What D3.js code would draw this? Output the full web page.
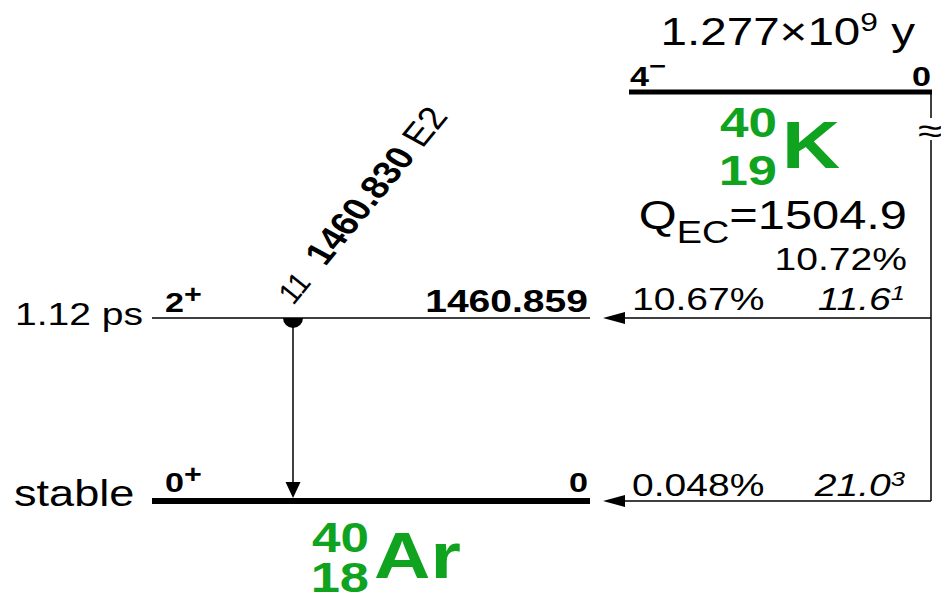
<!DOCTYPE html>
<html>
<head>
<meta charset="utf-8">
<script src="https://cdn.jsdelivr.net/npm/d3@7"></script>
<style>
  html, body { margin: 0; padding: 0; background: #fff; }
  svg { display: block; }
  text { font-family: "Liberation Sans", Arial, sans-serif; fill: #000; }
</style>
</head>
<body>
<svg id="scheme" width="941" height="593"></svg>
<script>
// ---- 40K electron-capture decay to 40Ar ----
// Daughter (40Ar) levels
const levelEnergies = [0, 1460.859];
const levelLabels   = ["0", "1460.859"];
const levelSpins    = ["0", "2"];
const levelParities = ["+", "+"];
const levelHalfLives = ["stable", "1.12 ps"];

// EC feeding of each daughter level
const ecBranches   = ["0.048%", "10.67%"];
const logFtValues  = ["21.0", "11.6"];
const logFtUncerts = ["3", "1"];

// Gamma transitions
const gammaFrom  = [1460.859];
const gammaTo    = [0];
const gammaEnergies = ["1460.830"];
const gammaIntensities = ["11"];
const gammaMults = ["E2"];

// Parent (40K)
const parentSpin = ["4", "\u2212"];
const parentLevelLabel = "0";
const parentHalfLife = ["1.277\u00d710", "9", " y"];
const qValue = 1504.9;
const parentEcTotal = "10.72%";

const GREEN = "#0fa31f";
const SX = 1.22;   // horizontal text stretch

const svg = d3.select("#scheme");

// Energy scale, broken between the daughter levels and the parent (Q value)
const y = d3.scaleLinear()
  .domain([0, levelEnergies[1], qValue])
  .range([501, 318, 92]);

const daughterX = d3.scaleLinear().domain([0, 1]).range([152, 590]);
const parentX = d3.scaleLinear().domain([0, 1]).range([629, 932]);
const feedX = 931;      // x of the vertical EC feeding line
const arrowTipX = 603;

function label(x, yy, anchor) {
  return svg.append("text")
    .attr("transform", `translate(${x},${yy}) scale(${SX},1)`)
    .attr("text-anchor", anchor || "start");
}

// ---- daughter levels ----
levelEnergies.forEach((e, i) => {
  const yy = y(e);
  const ground = e === 0;
  svg.append("line")
    .attr("x1", daughterX(0)).attr("x2", daughterX(1))
    .attr("y1", yy).attr("y2", yy)
    .attr("stroke", "#000")
    .attr("stroke-width", ground ? 6 : 1.6);

  // spin/parity
  const sp = label(165, yy - (ground ? 9 : 6), "start")
    .style("font-weight", "bold").style("font-size", "28px");
  sp.append("tspan").text(levelSpins[i]);
  sp.append("tspan").attr("dy", -9).style("font-size", "25px").text(levelParities[i]);

  // level energy
  label(588, yy - (ground ? 9 : 6), "end")
    .style("font-weight", "bold")
    .style("font-size", ground ? "28px" : "32px")
    .text(levelLabels[i]);

  // half-life
  label(ground ? 14 : 15, yy + (ground ? 5 : 7), "start")
    .style("font-size", ground ? "37px" : "32px")
    .text(levelHalfLives[i]);

  // EC feeding arrow
  svg.append("line")
    .attr("x1", feedX).attr("x2", arrowTipX + 15)
    .attr("y1", yy).attr("y2", yy)
    .attr("stroke", "#000").attr("stroke-width", 1.5);
  svg.append("path")
    .attr("d", `M${arrowTipX},${yy} L${arrowTipX + 22},${yy - 6} L${arrowTipX + 22},${yy + 6} Z`)
    .attr("fill", "#000");

  label(632, yy - (ground ? 5 : 8), "start")
    .style("font-size", "32px")
    .text(ecBranches[i]);
  const ft = label(905, yy - (ground ? 5 : 8), "end")
    .style("font-size", "32px").style("font-style", "italic");
  ft.append("tspan").text(logFtValues[i]);
  ft.append("tspan").attr("dy", -10).style("font-size", "21px").text(logFtUncerts[i]);
});

// ---- gamma transitions ----
gammaEnergies.forEach((g, i) => {
  const gx = 293;
  const y0 = y(gammaFrom[i]);
  const y1 = y(gammaTo[i]) - 3;
  // filled half-circle marking the coincidence origin
  const p = d3.path();
  p.moveTo(gx + 10, y0);
  p.arc(gx, y0, 10, 0, Math.PI);
  p.closePath();
  svg.append("path").attr("d", p.toString()).attr("fill", "#000");

  svg.append("line")
    .attr("x1", gx).attr("x2", gx)
    .attr("y1", y0).attr("y2", y1 - 12)
    .attr("stroke", "#000").attr("stroke-width", 1.5);
  svg.append("path")
    .attr("d", `M${gx},${y1} L${gx - 7.5},${y1 - 16} L${gx + 7.5},${y1 - 16} Z`)
    .attr("fill", "#000");

  const t = svg.append("text")
    .attr("transform", `translate(${gx + 1},${y0 - 13}) scale(${SX},1) rotate(-56)`)
    .style("font-size", "32px");
  t.append("tspan").style("font-style", "italic").style("font-size", "27px").text(gammaIntensities[i]);
  t.append("tspan").text("\u00a0\u00a0");
  t.append("tspan").style("font-weight", "bold").text(gammaEnergies[i]);
  t.append("tspan").text("\u00a0" + gammaMults[i]);
});

// ---- parent level ----
const py = y(qValue);
svg.append("line")
  .attr("x1", parentX(0)).attr("x2", parentX(1))
  .attr("y1", py).attr("y2", py)
  .attr("stroke", "#000").attr("stroke-width", 5);

const ps = label(630, py - 6, "start").style("font-weight", "bold").style("font-size", "28px");
ps.append("tspan").text(parentSpin[0]);
ps.append("tspan").attr("dy", -12).style("font-size", "24px").text(parentSpin[1]);

label(931, py - 6, "end").style("font-weight", "bold").style("font-size", "28px").text(parentLevelLabel);

const hl = label(915, 45, "end").style("font-size", "39px");
hl.append("tspan").text(parentHalfLife[0]);
hl.append("tspan").attr("dy", -14).style("font-size", "26px").text(parentHalfLife[1]);
hl.append("tspan").attr("dy", 14).text(parentHalfLife[2]);

// vertical feeding line with axis break
svg.append("line")
  .attr("x1", feedX).attr("x2", feedX)
  .attr("y1", py).attr("y2", 118)
  .attr("stroke", "#000").attr("stroke-width", 1.5);
svg.append("line")
  .attr("x1", feedX).attr("x2", feedX)
  .attr("y1", 140).attr("y2", y(0))
  .attr("stroke", "#000").attr("stroke-width", 1.5);
svg.append("text")
  .attr("transform", `translate(${feedX - 1},143) scale(${SX},1)`)
  .attr("text-anchor", "middle")
  .style("font-size", "36px")
  .text("\u2248");

// Q value and total EC branch
const q = label(907, 229, "end").style("font-size", "40px");
q.append("tspan").text("Q");
q.append("tspan").attr("dy", 14).style("font-size", "31px").text("EC");
q.append("tspan").attr("dy", -14).text("=" + qValue.toFixed(1));

label(907, 270, "end").style("font-size", "32px").text(parentEcTotal);

// ---- nuclide labels ----
function nuclide(xRight, yMass, yZ, mass, z, sym, ySym, size) {
  label(xRight, yMass, "end").style("font-weight", "bold").style("font-size", "42px")
    .style("fill", GREEN).text(mass);
  label(xRight, yZ, "end").style("font-weight", "bold").style("font-size", "43px")
    .style("fill", GREEN).text(z);
  label(xRight + 5, ySym, "start").style("font-weight", "bold")
    .style("font-size", size + "px").style("fill", GREEN).text(sym);
}
nuclide(777, 137, 185, "40", "19", "K", 168, 66);
nuclide(369, 552, 592, "40", "18", "Ar", 578, 64);
</script>
</body>
</html>
